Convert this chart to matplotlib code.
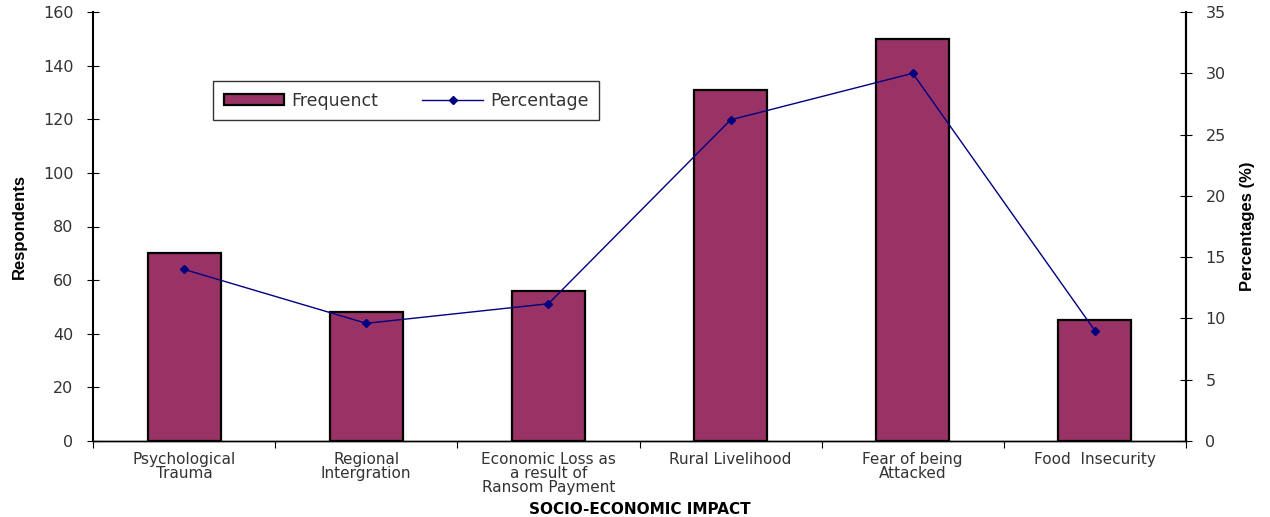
import matplotlib.pyplot as plt
import numpy as np

plt.rcParams['font.family'] = ['DejaVu Sans']

# data
categories = ["Psychological\nTrauma", "Regional\nIntergration",
              "Economic Loss as\na result of\nRansom Payment", "Rural Livelihood",
              "Fear of being\nAttacked", "Food  Insecurity"]
frequency = [70, 48, 56, 131, 150, 45]
percentage = [14, 9.6, 11.2, 26.2, 30, 9]

fig = plt.figure(figsize=(12.7, 5.17), dpi=100)
ax = fig.add_axes([93 / 1270, 76 / 517, 1093 / 1270, 429 / 517])
ax2 = ax.twinx()

x = np.arange(len(categories))
bars = ax.bar(x, frequency, width=0.4, color="#993366", edgecolor="black",
              linewidth=1.6, label="Frequenct", zorder=2)
line, = ax2.plot(x, percentage, color="#000080", marker="D", markersize=4.5,
                 linewidth=1, label="Percentage")

ax.set_xlim(-0.5, len(categories) - 0.5)
ax.set_ylim(0, 160)
ax.set_yticks(range(0, 161, 20))
ax2.set_ylim(0, 35)
ax2.set_yticks(range(0, 36, 5))

ax.set_xticks(np.arange(-0.5, len(categories), 1))
ax.set_xticklabels([])
ax.set_xticks(x, minor=True)
ax.set_xticklabels(categories, minor=True, fontsize=11, color="#333333",
                   va="top", linespacing=0.9)
ax.tick_params(axis="x", which="major", direction="out", length=5)
ax.tick_params(axis="x", which="minor", length=0, pad=8)
ax.tick_params(axis="y", direction="inout", length=8, labelsize=11.5,
               labelcolor="#333333", pad=10)
ax2.tick_params(axis="y", direction="inout", length=8, labelsize=11.5,
                labelcolor="#333333", pad=10)

for a in (ax, ax2):
    a.spines["top"].set_visible(False)
    a.spines["left"].set_linewidth(1.5)
    a.spines["right"].set_linewidth(1.5)
    a.spines["bottom"].set_linewidth(1)
ax2.spines["left"].set_visible(False)

ax.set_ylabel("Respondents", fontsize=12, fontweight="bold", labelpad=12,
              family=["Liberation Sans"])
ax2.set_ylabel("Percentages (%)", fontsize=12, fontweight="bold", labelpad=10,
               family=["Liberation Sans"])
ax.set_xlabel("SOCIO-ECONOMIC IMPACT", fontsize=11, fontweight="bold")
ax.xaxis.set_label_coords(0.5, -0.142)

leg = ax.legend([bars, line], ["Frequenct", "Percentage"], ncol=2,
                loc="lower left", bbox_to_anchor=(0.11, 0.748, 0.353, 0.084),
                mode="expand", borderaxespad=0, fancybox=False,
                edgecolor="black", fontsize=12.5, handlelength=3.5,
                handleheight=0.55, borderpad=0.6, columnspacing=2.5,
                handletextpad=0.4)
leg.get_frame().set_linewidth(1)
for t in leg.get_texts():
    t.set_color("#333333")

fig.savefig("out.png", dpi=100)
